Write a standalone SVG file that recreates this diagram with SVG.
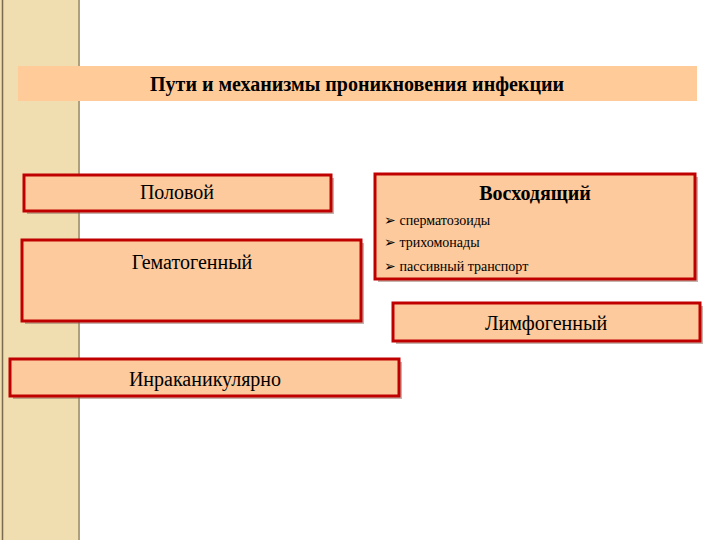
<svg xmlns="http://www.w3.org/2000/svg" width="720" height="540" viewBox="0 0 720 540">
<style>
.box{fill:#FCCA9C;stroke:#C00000;stroke-width:3}
.sh{fill:#8a6a5a;opacity:0.5}
text{font-family:"Liberation Serif",serif;fill:#000}
.t{font-size:20px}
.s{font-size:14px}
</style>
<rect width="720" height="540" fill="#fff"/>
<g id="strip">
<rect x="0" y="0" width="80" height="540" fill="#F0DDB0"/>
<line x1="2.5" y1="0" x2="2.5" y2="540" stroke="#7a6a50" stroke-width="1.5"/>
<line x1="79" y1="0" x2="79" y2="540" stroke="#9a8a6a" stroke-width="1.5"/>
</g>
<g id="title">
<rect x="18" y="66" width="679" height="35" fill="#FFCC99"/>
<text class="t" x="357" y="91" text-anchor="middle" font-weight="bold">Пути и механизмы проникновения инфекции</text>
</g>
<g id="polovoy">
<rect class="sh" x="27" y="178" width="307" height="36"/>
<rect class="box" x="24" y="175" width="307" height="36"/>
<text class="t" x="177" y="199" text-anchor="middle">Половой</text>
</g>
<g id="gemato">
<rect class="sh" x="25" y="243" width="339" height="81"/>
<rect class="box" x="22" y="240" width="339" height="81"/>
<text class="t" x="192" y="269" text-anchor="middle">Гематогенный</text>
</g>
<g id="voskh">
<rect class="sh" x="378" y="177" width="320" height="105"/>
<rect class="box" x="375" y="174" width="320" height="105"/>
<text class="t" x="535" y="200" text-anchor="middle" font-weight="bold">Восходящий</text>
<text class="s" x="384" y="225">➢  сперматозоиды</text>
<text class="s" x="384" y="247">➢  трихомонады</text>
<text class="s" x="384" y="271">➢  пассивный транспорт</text>
</g>
<g id="limfo">
<rect class="sh" x="396" y="306" width="307" height="38"/>
<rect class="box" x="393" y="303" width="307" height="38"/>
<text class="t" x="546" y="330" text-anchor="middle">Лимфогенный</text>
</g>
<g id="inra">
<rect class="sh" x="13" y="362" width="389" height="37"/>
<rect class="box" x="10" y="359" width="389" height="37"/>
<text class="t" x="205" y="386" text-anchor="middle">Инраканикулярно</text>
</g>
<g id="connectors"/>
</svg>
